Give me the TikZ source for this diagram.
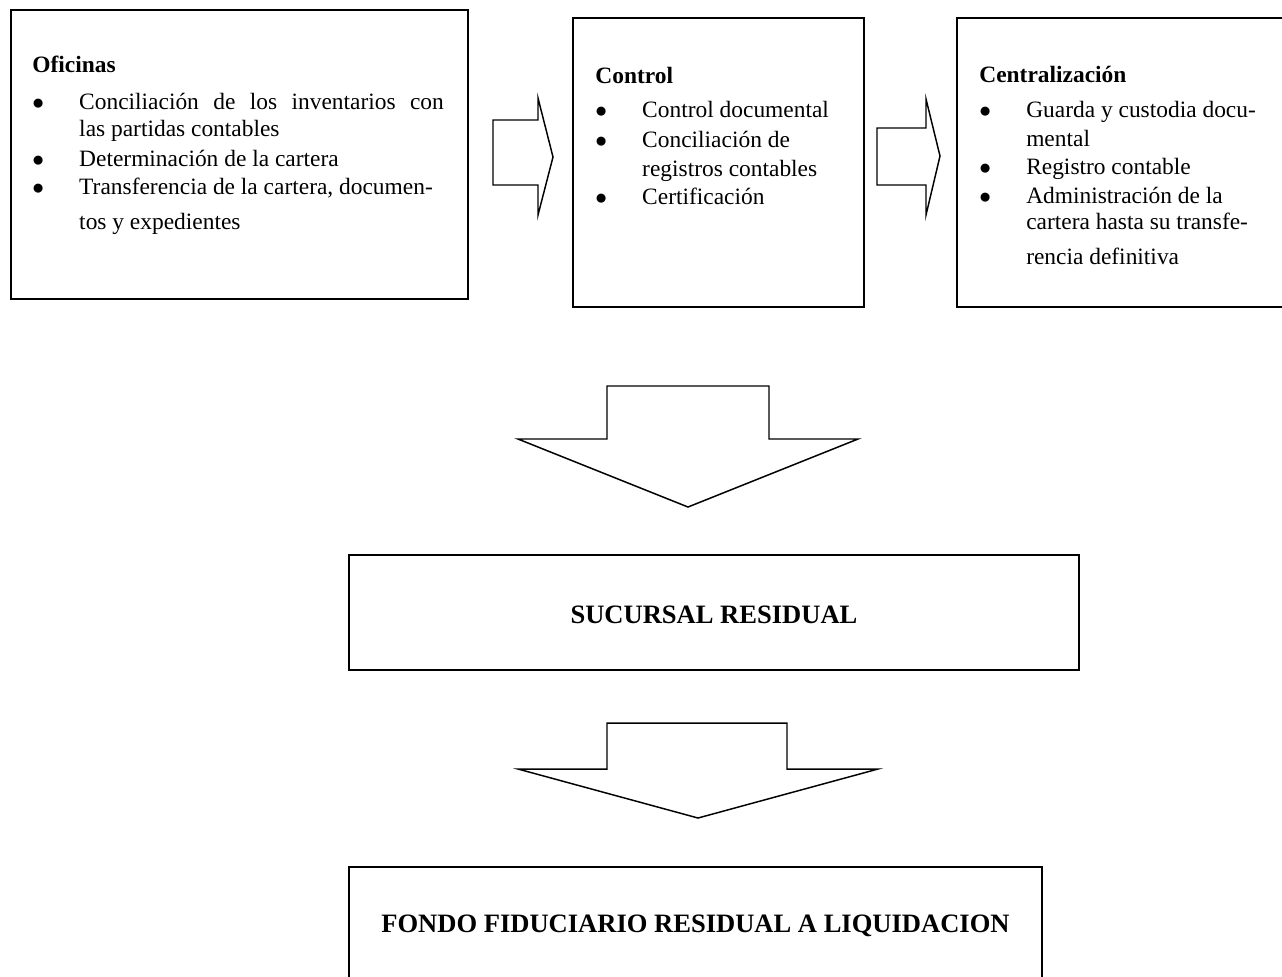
\documentclass[tikz,border=0pt]{standalone}
\usepackage{fontspec}
\setmainfont{Liberation Serif}
\usetikzlibrary{fit}

\newcommand{\itembul}{$\bullet$}

\tikzset{
  box/.style={draw, line width=1pt, inner sep=0pt},
  blockarrow/.style={draw, line width=0.75pt, line join=miter},
  itemtext/.style={anchor=base west, inner sep=0pt, font=\fontsize{12}{13.8}\selectfont},
  headtext/.style={inner sep=0pt, font=\fontsize{13.6}{16}\selectfont\bfseries}
}

\begin{document}
\begin{tikzpicture}[x=0.018cm,y=-0.018cm]
            \useasboundingbox (0,0) rectangle (1282,976);
            \clip (0,0) rectangle (1282,976);
            \node[box, fit={(11,10) (468,299)}] (ofi) {};
            \node[box, fit={(573,18) (864,307)}] (ctrl) {};
            \node[box, fit={(957,18) (1300,307)}] (cent) {};
            \node[box, fit={(349,555) (1079,670)}] (suc) {};
            \node[box, fit={(349,867) (1042,985)}] (fondo) {};
            \node[headtext] (suctxt) at ([yshift=-1pt]suc.center) {SUCURSAL RESIDUAL};
            \node[headtext] (fondotxt) at (fondo.center) {FONDO FIDUCIARIO RESIDUAL A LIQUIDACION};
            \node[itemtext] (ofitxt) at (32,72) {%
              \begin{tabular}[t]{@{}p{24pt}@{}l@{}}
              \multicolumn{2}{@{}l@{}}{\bfseries Oficinas}\\[5.6pt]
              \itembul & \makebox[186.8pt][s]{Conciliación de los inventarios con}\\
                       & las partidas contables\\[1.5pt]
              \itembul & Determinación de la cartera\\[0.5pt]
              \itembul & Transferencia de la cartera, documen-\\[4.1pt]
                       & tos y expedientes
              \end{tabular}};
            \node[itemtext] (ctrltxt) at (595,83) {%
              \begin{tabular}[t]{@{}p{24pt}@{}l@{}}
              \multicolumn{2}{@{}l@{}}{\bfseries Control}\\[4.1pt]
              \itembul & Control documental\\[1.5pt]
              \itembul & Conciliación de\\[1pt]
                       & registros contables\\[0.5pt]
              \itembul & Certificación
              \end{tabular}};
            \node[itemtext] (centtxt) at (979,82) {%
              \begin{tabular}[t]{@{}p{24pt}@{}l@{}}
              \multicolumn{2}{@{}l@{}}{\bfseries Centralización}\\[4.6pt]
              \itembul & Guarda y custodia docu-\\[1pt]
                       & mental\\[0.5pt]
              \itembul & Registro contable\\[1pt]
              \itembul & Administración de la\\[-0.5pt]
                       & cartera hasta su transfe-\\[4.1pt]
                       & rencia definitiva
              \end{tabular}};
            \draw[blockarrow] (493,120) -- (538,120) -- (538,98) -- (553,157)
              -- (538,215) -- (538,185) -- (493,185) -- cycle;
            \draw[blockarrow] (877,128) -- (926,128) -- (926,99) -- (940,156)
              -- (926,215) -- (926,185) -- (877,185) -- cycle;
            \draw[blockarrow] (607,386) -- (769,386) -- (769,439) -- (858,439)
              -- (688,507) -- (518,439) -- (607,439) -- cycle;
            \draw[blockarrow] (607,723) -- (787,723) -- (787,769) -- (878,769)
              -- (698,818) -- (518,769) -- (607,769) -- cycle;
        \end{tikzpicture}
\end{document}
